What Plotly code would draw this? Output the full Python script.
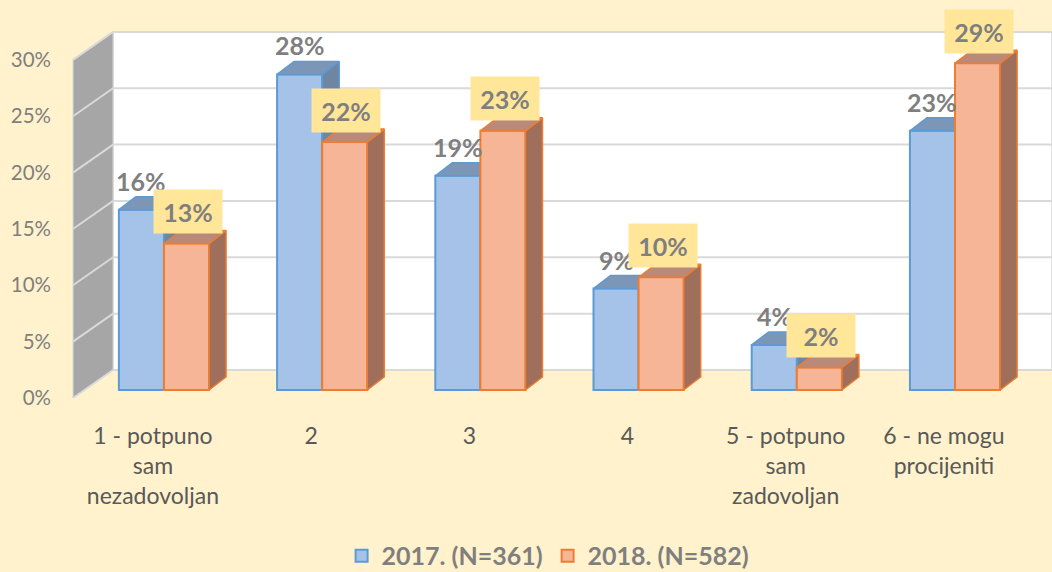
import plotly.graph_objects as go

# ---------------- data ----------------
categories = ["1 - potpuno<br>sam<br>nezadovoljan", "2", "3", "4",
              "5 - potpuno<br>sam<br>zadovoljan", "6 - ne mogu<br>procijeniti"]
series_2017 = [0.16, 0.28, 0.19, 0.09, 0.04, 0.23]
series_2018 = [0.13, 0.22, 0.23, 0.10, 0.02, 0.29]
series_names = ["2017. (N=361)", "2018. (N=582)"]
y_ticks = [0, 0.05, 0.10, 0.15, 0.20, 0.25, 0.30]

# ---------------- style / geometry ----------------
BG = "#fff2cc"
GRAY_TXT = "#7f7f7f"
CAT_TXT = "#595959"
GRID = "#d9d9d9"
BLUE_FRONT, BLUE_LINE, BLUE_TOP, BLUE_SIDE = "#a5c3e8", "#5b9bd5", "#7c96b8", "#6f86a3"
ORG_FRONT, ORG_LINE, ORG_TOP, ORG_SIDE = "#f7b598", "#ed7d31", "#b98979", "#9f6f5c"

BAR_W = 0.285      # bar width (x units)
DX = 0.1075        # bar depth, x units
DY = 0.01153       # bar depth, value units
WALL_DX = 0.0409   # wall depth, paper units
WALL_DY = 0.02485  # wall depth, value units
FONT = "Lato"

pos = list(range(len(categories)))


def faces(x_left, vals):
    sx, sy, tx, ty = [], [], [], []
    for x0, v in zip(x_left, vals):
        x1 = x0 + BAR_W
        sx += [x1, x1, x1 + DX, x1 + DX, x1, None]
        sy += [0, v, v + DY, DY, 0, None]
        tx += [x0, x0 + DX, x1 + DX, x1, x0, None]
        ty += [v, v + DY, v + DY, v, v, None]
    return sx, sy, tx, ty


fig = go.Figure()

# ---- 2017 (base subplot) ----
fig.add_trace(go.Bar(
    x=pos, y=series_2017, width=BAR_W, offset=-BAR_W, name=series_names[0],
    marker=dict(color=BLUE_FRONT, line=dict(color=BLUE_LINE, width=2)),
    xaxis="x", yaxis="y", hoverinfo="skip"))
bx_left = [p - BAR_W for p in pos]
sx, sy, tx, ty = faces(bx_left, series_2017)
fig.add_trace(go.Scatter(x=sx, y=sy, fill="toself", fillcolor=BLUE_SIDE, mode="lines",
                         line=dict(color=BLUE_LINE, width=1.5), showlegend=False,
                         hoverinfo="skip", xaxis="x", yaxis="y"))
fig.add_trace(go.Scatter(x=tx, y=ty, fill="toself", fillcolor=BLUE_TOP, mode="lines",
                         line=dict(color=BLUE_LINE, width=1.5), showlegend=False,
                         hoverinfo="skip", xaxis="x", yaxis="y"))

# ---- 2018 (overlay subplot, drawn above 2017) ----
fig.add_trace(go.Bar(
    x=pos, y=series_2018, width=BAR_W, offset=0, name=series_names[1],
    marker=dict(color=ORG_FRONT, line=dict(color=ORG_LINE, width=2)),
    xaxis="x", yaxis="y3", hoverinfo="skip"))
ox_left = [p for p in pos]
sx, sy, tx, ty = faces(ox_left, series_2018)
fig.add_trace(go.Scatter(x=sx, y=sy, fill="toself", fillcolor=ORG_SIDE, mode="lines",
                         line=dict(color=ORG_LINE, width=1.5), showlegend=False,
                         hoverinfo="skip", xaxis="x", yaxis="y3"))
fig.add_trace(go.Scatter(x=tx, y=ty, fill="toself", fillcolor=ORG_TOP, mode="lines",
                         line=dict(color=ORG_LINE, width=1.5), showlegend=False,
                         hoverinfo="skip", xaxis="x", yaxis="y3"))

# dummy trace so that the tick-label axis is drawn
fig.add_trace(go.Scatter(x=[None], y=[None], xaxis="x", yaxis="y2",
                         showlegend=False, hoverinfo="skip"))

# ---------------- walls (background) ----------------
shapes = []
shapes.append(dict(type="rect", xref="paper", yref="y2", x0=WALL_DX, x1=1,
                   y0=WALL_DY, y1=y_ticks[-1] + WALL_DY, fillcolor="white",
                   line=dict(color=GRID, width=1.5), layer="below"))
shapes.append(dict(type="path", xref="paper", yref="y2",
                   path=f"M 0,0 L 0,{y_ticks[-1]} L {WALL_DX},{y_ticks[-1] + WALL_DY} "
                        f"L {WALL_DX},{WALL_DY} Z",
                   fillcolor="#a6a6a6", line=dict(color=GRID, width=1), layer="below"))
for v in y_ticks:
    shapes.append(dict(type="line", xref="paper", yref="y2", x0=WALL_DX, x1=1,
                       y0=v + WALL_DY, y1=v + WALL_DY, line=dict(color=GRID, width=2),
                       layer="below"))
    shapes.append(dict(type="line", xref="paper", yref="y2", x0=0, x1=WALL_DX,
                       y0=v, y1=v + WALL_DY, line=dict(color=GRID, width=2),
                       layer="below"))

# ---------------- data labels ----------------
annotations = []
for p, v in zip(pos, series_2017):
    annotations.append(dict(x=p - BAR_W / 2, y=v, xref="x", yref="y", yshift=29,
                            text=f"{v * 100:.0f}%", showarrow=False,
                            font=dict(family=FONT, size=25, color=GRAY_TXT, weight="bold")))
for p, v in zip(pos, series_2018):
    annotations.append(dict(x=p + BAR_W / 2 + 0.01, y=v, xref="x", yref="y", yshift=32,
                            text=f"{v * 100:.0f}%", showarrow=False, bgcolor="#ffe699",
                            width=68, height=43, borderpad=0,
                            font=dict(family=FONT, size=25, color=GRAY_TXT, weight="bold")))

fig.update_layout(
    width=1052, height=572,
    paper_bgcolor=BG, plot_bgcolor="rgba(0,0,0,0)",
    margin=dict(l=73, r=0, t=28, b=174, autoexpand=False),
    shapes=shapes, annotations=annotations,
    showlegend=True,
    legend=dict(orientation="h", xref="container", yref="container",
                x=0.521, xanchor="center", y=0.028, yanchor="middle",
                font=dict(family=FONT, size=25, color=GRAY_TXT, weight="bold"),
                itemwidth=30, bgcolor="rgba(0,0,0,0)"),
    xaxis=dict(range=[-0.575, 5.613], tickvals=[p - 0.07 for p in pos], ticktext=categories,
               showgrid=False, zeroline=False, showline=False, ticks="",
               tickfont=dict(family=FONT, size=23, color=CAT_TXT),
               ticklabelstandoff=22, automargin=False, fixedrange=True),
    yaxis=dict(range=[-0.0071, 0.3212], visible=False, fixedrange=True),
    yaxis3=dict(range=[-0.0071, 0.3212], overlaying="y", visible=False, fixedrange=True),
    yaxis2=dict(range=[0, 0.3283], overlaying="y", side="left", tickvals=y_ticks,
                tickformat=".0%", showgrid=False, zeroline=False, showline=False, ticks="",
                tickfont=dict(family=FONT, size=20.5, color=GRAY_TXT),
                ticklabelstandoff=21, automargin=False, fixedrange=True),
    font=dict(family=FONT),
)

fig.write_html("out.html", config={"displayModeBar": False},
               post_script="document.body.style.margin='0';document.body.style.background='#fff2cc';")
